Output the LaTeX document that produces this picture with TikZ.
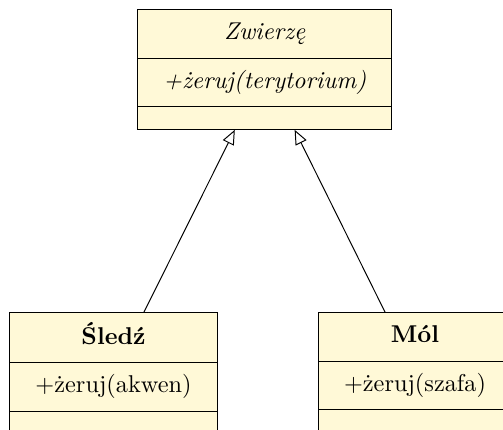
\documentclass[tikz,border=0pt]{standalone}
\usepackage{tikz}
\usetikzlibrary{shapes,arrows.meta,positioning}
\usepackage{xcolor}

\definecolor{tloKlasy}{RGB}{255,249,215}

\newcommand{\pustaCzesc}{\rule{0pt}{1.5pt}}

\tikzset{
  klasa/.style={rectangle split, rectangle split parts=3, draw, fill=tloKlasy,
    anchor=north, inner xsep=10.5pt, inner ysep=3.75pt},
  dziedziczy/.style={-{Triangle[open, length=6pt, width=5pt]}}
}

\begin{document}
\begin{tikzpicture}[x=0.4115pt, y=-0.4115pt]
        \useasboundingbox (0,0) rectangle (503,430);
        \clip (0,0) rectangle (503,430);

        % klasa bazowa (abstrakcyjna)
        \node[klasa] (zwierze) at (264.8,9.3) {\strut\textit{Zwierzę}
            \nodepart{two}\strut\textit{+żeruj(terytorium)}
            \nodepart{three}\pustaCzesc};

        % klasy pochodne
        \node[klasa] (sledz) at (113.5,312.3) {\strut\textbf{Śledź}
            \nodepart{two}\strut+żeruj(akwen)
            \nodepart{three}\pustaCzesc};
        \node[klasa] (mol) at (415,312.3) {\strut\textbf{Mól}
            \nodepart{two}\strut+żeruj(szafa)
            \nodepart{three}\pustaCzesc};

        \draw[dziedziczy] (sledz) -- (zwierze);
        \draw[dziedziczy] (mol) -- (zwierze);
    \end{tikzpicture}
\end{document}
